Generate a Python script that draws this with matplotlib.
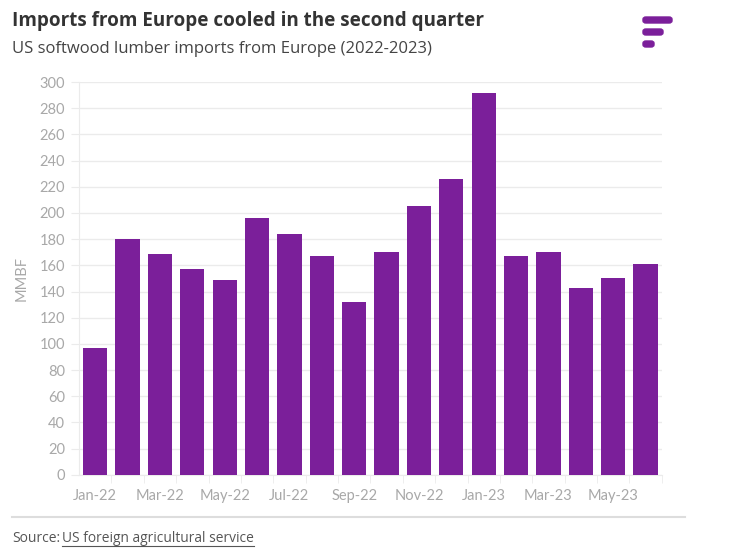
import matplotlib.pyplot as plt
from matplotlib.patches import FancyBboxPatch
from matplotlib.lines import Line2D
import numpy as np

months = ["Jan-22", "Feb-22", "Mar-22", "Apr-22", "May-22", "Jun-22",
          "Jul-22", "Aug-22", "Sep-22", "Oct-22", "Nov-22", "Dec-22",
          "Jan-23", "Feb-23", "Mar-23", "Apr-23", "May-23", "Jun-23"]
imports_mmbf = [97, 180, 169, 157, 149, 196, 184, 167, 132, 170, 205, 226,
                292, 167, 170, 143, 150, 161]
y_ticks = list(range(0, 301, 20))

purple = "#7b1f9a"
grid_c = "#ebebeb"
tick_c = "#a8a8a8"

plt.rcParams['font.family'] = ['Lato', 'DejaVu Sans']

fig = plt.figure(figsize=(7.32, 5.58), dpi=100)
ax = fig.add_axes([0.108, 0.149, 0.796, 0.704])

x = np.arange(len(months))
ax.bar(x, imports_mmbf, width=0.75, color=purple, zorder=3)

ax.set_xlim(-0.5, len(months) - 0.5)
ax.set_ylim(0, 300)
ax.set_yticks(y_ticks)
ax.set_yticklabels([str(v) for v in y_ticks], color=tick_c, fontsize=10.5)
ax.yaxis.grid(True, color=grid_c, linewidth=1, zorder=0)
ax.tick_params(axis='y', length=6, color=grid_c, pad=4)

# labels every other month, ticks at category boundaries
ax.set_xticks(x[::2])
ax.set_xticklabels(months[::2], color=tick_c, fontsize=10.5)
ax.tick_params(axis='x', length=0, pad=10)
ax.set_xticks(np.arange(0.5, len(months)), minor=True)
ax.tick_params(axis='x', which='minor', length=6, color=grid_c, direction='out')

for s in ["top", "right"]:
    ax.spines[s].set_visible(False)
ax.spines["left"].set_color(grid_c)
ax.spines["bottom"].set_color(grid_c)

ax.set_ylabel("MMBF", color=tick_c, fontsize=10.5, labelpad=8)

fig.text(0.016, 0.963, "Imports from Europe cooled in the second quarter",
         fontsize=13.6, fontweight='bold', color="#333333", va='center',
         family=['Open Sans', 'DejaVu Sans'])
fig.text(0.016, 0.912, "US softwood lumber imports from Europe (2022-2023)",
         fontsize=12, color="#444444", va='center',
         family=['Open Sans', 'DejaVu Sans'])

# logo
W, H = 732, 558
for (x0, y0, w) in [(643, 17, 29), (643, 29, 20), (643, 41, 11)]:
    fig.patches.append(FancyBboxPatch((x0 / W, 1 - (y0 + 6) / H), w / W, 6 / H,
                                      boxstyle="round,pad=0,rounding_size=0.004",
                                      transform=fig.transFigure, color=purple))

fig.add_artist(Line2D([12 / W, 685 / W], [1 - 517 / H, 1 - 517 / H],
                      transform=fig.transFigure, color="#dddddd", linewidth=1.5))
fig.text(12 / W, 1 - 539 / H, "Source:", fontsize=10, color="#555555", va='center',
         family=['Open Sans', 'DejaVu Sans'])
src = fig.text(62 / W, 1 - 539 / H, "US foreign agricultural service",
               fontsize=9.9, color="#555555", va='center',
               family=['Open Sans', 'DejaVu Sans'])

# underline under the source link, sized to the text
fig.canvas.draw()
bb = src.get_window_extent().transformed(fig.transFigure.inverted())
fig.add_artist(Line2D([bb.x0, bb.x1], [1 - 546 / H, 1 - 546 / H],
                      transform=fig.transFigure, color="#555555", linewidth=0.8))

fig.savefig("out.png", dpi=100)
